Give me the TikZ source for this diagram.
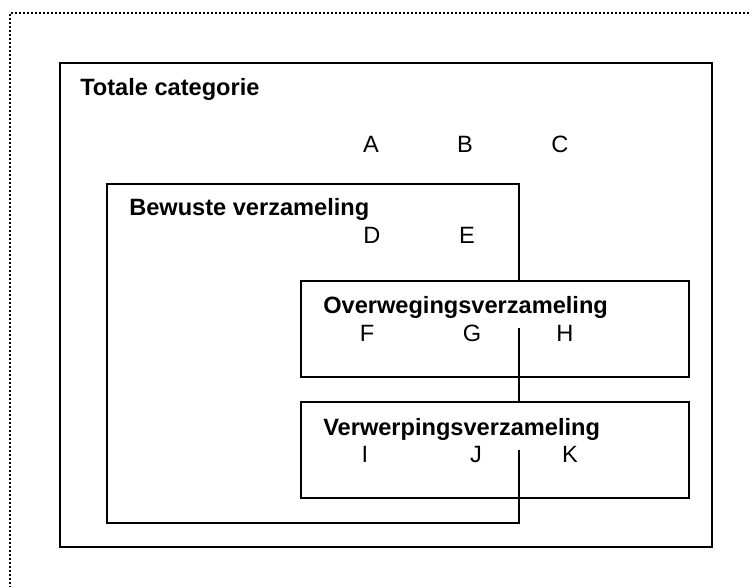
\documentclass[tikz,border=0pt]{standalone}
\usepackage{fontspec}
\setmainfont{Liberation Sans}

\tikzset{
  setbox/.style={line width=1.2pt},
  settitle/.style={font=\bfseries\fontsize{17.7}{20}\selectfont, anchor=base west, inner sep=0pt},
  brand/.style={font=\fontsize{17.7}{20}\selectfont, anchor=base, inner sep=0pt}
}

\begin{document}
\begin{tikzpicture}[x=0.75pt,y=-0.75pt]
\useasboundingbox (0,0) rectangle (749,587);
% dotted frame, only top and left edge fall on the page
\draw[line width=1.2pt, dash pattern=on 1.2pt off 1.8pt] (749,13) -- (10,13) -- (10,587);
\draw[setbox] (60,63) rectangle (712,547);
\draw[setbox] (107,184) rectangle (519,523);
% white title bands hide the edge of the box behind
\fill[white] (301,281) rectangle (689,328);
\fill[white] (301,402) rectangle (689,450);
\draw[setbox] (301,281) rectangle (689,377);
\draw[setbox] (301,402) rectangle (689,498);
\node[settitle] (totaal) at (80,95) {Totale categorie};
\node[settitle] (bewust) at (129,215) {Bewuste verzameling};
\node[settitle] (overweging) at (323,313) {Overwegingsverzameling};
\node[settitle] (verwerping) at (323,435) {Verwerpingsverzameling};
\foreach \x/\y/\l in {371/152/A,465/152/B,560/152/C,372/243/D,467/243/E,
  367/341/F,472/341/G,565/341/H,365/462/I,476/462/J,570/462/K}{
\node[brand] (\l) at (\x,\y) {\l};}
\end{tikzpicture}
\end{document}
